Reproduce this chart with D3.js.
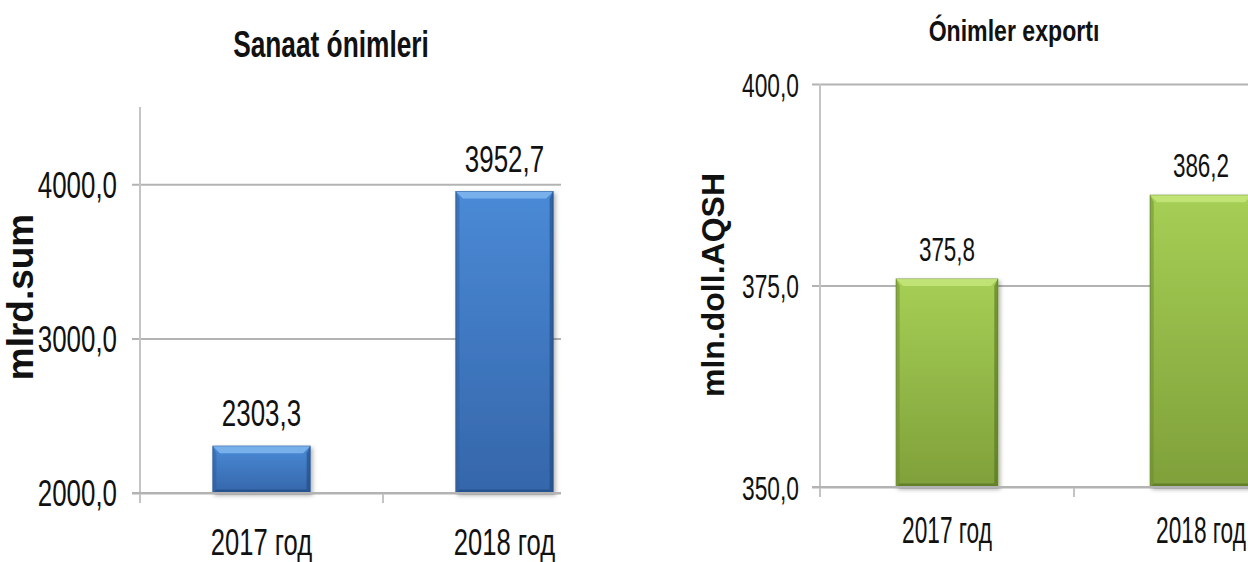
<!DOCTYPE html>
<html><head><meta charset="utf-8">
<script src="https://cdn.jsdelivr.net/npm/d3@7"></script>
<style>html,body{margin:0;padding:0;background:#fff;overflow:hidden}</style>
</head><body><svg id="c" width="1248" height="562"></svg>
<script>
// ---- data ----
const categories = ["2017 год", "2018 год"];
const industryValues = [2303.3, 3952.7];
const industryLabels = ["2303,3", "3952,7"];
const industryTicks = [2000, 3000, 4000];
const industryTickLabels = ["2000,0", "3000,0", "4000,0"];
const industryDomain = [2000, 4500];
const exportValues = [375.8, 386.2];
const exportLabels = ["375,8", "386,2"];
const exportTicks = [350, 375, 400];
const exportTickLabels = ["350,0", "375,0", "400,0"];
const exportDomain = [350, 400];
const chartTitles = ["Sanaat ónimleri", "Ónimler exportı"];
const axisTitles = ["mlrd.sum", "mln.doll.AQSH"];

const svg = d3.select("#c");
const defs = svg.append("defs");
const FONT = "'Liberation Sans', Arial, sans-serif";

function grad(id, stops) {
  const g = defs.append("linearGradient").attr("id", id)
    .attr("x1", 0).attr("y1", 0).attr("x2", 0).attr("y2", 1);
  stops.forEach(s => g.append("stop").attr("offset", s[0]).attr("stop-color", s[1]));
}
grad("gBlue", [[0, "#4A8AD6"], [1, "#3566AA"]]);
grad("gGreen", [[0, "#A6CF55"], [1, "#7FA03A"]]);
const f = defs.append("filter").attr("id", "sh").attr("x", "-10%").attr("y", "-10%").attr("width", "130%").attr("height", "130%");
f.append("feDropShadow").attr("dx", 2).attr("dy", 2).attr("stdDeviation", 2).attr("flood-color", "#000").attr("flood-opacity", 0.3);

function condense(sel, k) {
  sel.each(function () {
    const w = this.getComputedTextLength();
    d3.select(this).attr("textLength", w * k).attr("lengthAdjust", "spacingAndGlyphs");
  });
}

function drawChart(o) {
  const g = svg.append("g");
  const clipId = "clip" + o.id;
  defs.append("clipPath").attr("id", clipId).append("rect")
    .attr("x", 0).attr("y", 0).attr("width", o.clipRight).attr("height", 562);

  const x = d3.scaleBand().domain(categories).range(o.xRange).paddingInner(0.6).paddingOuter(0.3);
  const y = d3.scaleLinear().domain(o.domain).range(o.yRange);
  const ax = o.xRange[0];
  const base = o.yRange[0];
  const top = o.yRange[1];

  const plot = g.append("g").attr("clip-path", `url(#${clipId})`);

  // y axis with gridlines
  const yAxis = d3.axisLeft(y).tickValues(o.ticks)
    .tickFormat((d, i) => o.tickLabels[i])
    .tickSizeInner(-(o.clipRight - ax)).tickSizeOuter(0).tickPadding(o.tickPad);
  const ya = plot.append("g").attr("transform", `translate(${ax},0)`).call(yAxis);
  ya.select(".domain").remove();
  ya.selectAll(".tick line").attr("x1", -8).attr("stroke", "#b3b3b3").attr("stroke-width", 2);
  ya.selectAll(".tick text").attr("font-family", FONT).attr("font-size", o.tickSize)
    .attr("fill", "#111").attr("dy", "0.36em");
  condense(ya.selectAll(".tick text"), o.tickK);

  // vertical axis line
  plot.append("line").attr("x1", ax).attr("x2", ax).attr("y1", top).attr("y2", base + 10)
    .attr("stroke", "#c4c4c4").attr("stroke-width", 2);
  // category separator ticks
  const sep = categories.slice(1).map(c => x(c) - x.step() * x.paddingInner() / 2);
  plot.selectAll(".sep").data(sep).enter().append("line")
    .attr("x1", d => d).attr("x2", d => d).attr("y1", base).attr("y2", base + 10)
    .attr("stroke", "#c4c4c4").attr("stroke-width", 2);

  // bars
  const bw = x.bandwidth();
  const bars = plot.selectAll(".bar").data(o.values).enter().append("g").attr("filter", "url(#sh)");
  bars.append("rect")
    .attr("x", (d, i) => x(categories[i])).attr("y", d => y(d))
    .attr("width", bw).attr("height", d => base - y(d))
    .attr("fill", `url(#${o.grad})`).attr("stroke", o.edge).attr("stroke-width", 1);
  const bv = 7;
  bars.append("path").attr("d", (d, i) => {
    const x0 = x(categories[i]), y0 = y(d);
    return `M${x0},${y0}L${x0 + bw},${y0}L${x0 + bw - bv},${y0 + bv}L${x0 + bv},${y0 + bv}Z`;
  }).attr("fill", o.light).attr("opacity", 0.9);
  bars.append("path").attr("d", (d, i) => {
    const x0 = x(categories[i]), y0 = y(d);
    return `M${x0},${y0}L${x0 + bv * 0.5},${y0 + bv}L${x0 + bv * 0.5},${base - bv * 0.5}L${x0},${base}Z`;
  }).attr("fill", o.side).attr("opacity", 0.5);
  bars.append("path").attr("d", (d, i) => {
    const x1 = x(categories[i]) + bw, y0 = y(d);
    return `M${x1},${y0}L${x1 - bv * 0.5},${y0 + bv}L${x1 - bv * 0.5},${base - bv * 0.5}L${x1},${base}Z`;
  }).attr("fill", o.dark).attr("opacity", 0.55);
  bars.append("path").attr("d", (d, i) => {
    const x0 = x(categories[i]);
    return `M${x0},${base}L${x0 + bv * 0.5},${base - bv * 0.5}L${x0 + bw - bv * 0.5},${base - bv * 0.5}L${x0 + bw},${base}Z`;
  }).attr("fill", o.dark).attr("opacity", 0.6);

  // baseline (category axis)
  plot.append("line").attr("x1", ax - 8).attr("x2", o.clipRight).attr("y1", base).attr("y2", base)
    .attr("stroke", "#b3b3b3").attr("stroke-width", 2);

  // data labels
  const dl = g.selectAll(".dl").data(o.values).enter().append("text")
    .attr("x", (d, i) => x(categories[i]) + bw / 2).attr("y", d => y(d) - o.labelGap)
    .attr("text-anchor", "middle").attr("font-family", FONT).attr("font-size", o.labelSize)
    .attr("fill", "#111").text((d, i) => o.labels[i]);
  condense(dl, o.labelK);

  // category labels
  const cl = g.selectAll(".cl").data(categories).enter().append("text")
    .attr("x", d => x(d) + bw / 2).attr("y", o.catY)
    .attr("text-anchor", "middle").attr("font-family", FONT).attr("font-size", o.catSize)
    .attr("fill", "#111").text(d => d);
  condense(cl, o.catK);

  // title
  const t = g.append("text").attr("x", o.titleX).attr("y", o.titleY).attr("text-anchor", "middle")
    .attr("font-family", FONT).attr("font-weight", "bold").attr("font-size", o.titleSize)
    .attr("fill", "#111").text(o.title);
  condense(t, o.titleK);

  // axis title
  g.append("text").attr("transform", `translate(${o.ytX},${o.ytY}) rotate(-90)`)
    .attr("text-anchor", "middle").attr("font-family", FONT).attr("font-weight", "bold")
    .attr("font-size", o.ytSize).attr("fill", "#111").text(o.yTitle);
}

drawChart({
  id: 1, xRange: [140, 626], clipRight: 561, domain: industryDomain, yRange: [493, 107],
  ticks: industryTicks, tickLabels: industryTickLabels, tickPad: 23, tickSize: 36, tickK: 0.72,
  values: industryValues, labels: industryLabels, labelGap: 20, labelSize: 36, labelK: 0.72,
  catY: 555, catSize: 36, catK: 0.71,
  grad: "gBlue", light: "#7DB5EE", side: "#2d5e9e", dark: "#1f467a", edge: "#2f5d98",
  title: chartTitles[0], titleX: 331, titleY: 57, titleSize: 36, titleK: 0.73,
  yTitle: axisTitles[0], ytX: 33, ytY: 297, ytSize: 37
});
drawChart({
  id: 2, xRange: [820, 1328], clipRight: 1248, domain: exportDomain, yRange: [487, 84],
  ticks: exportTicks, tickLabels: exportTickLabels, tickPad: 21, tickSize: 34, tickK: 0.67,
  values: exportValues, labels: exportLabels, labelGap: 18, labelSize: 34, labelK: 0.66,
  catY: 543, catSize: 36, catK: 0.63,
  grad: "gGreen", light: "#C4E57A", side: "#6b8a2e", dark: "#4f6a1f", edge: "#6f8f33",
  title: chartTitles[1], titleX: 1014, titleY: 41, titleSize: 30, titleK: 0.77,
  yTitle: axisTitles[1], ytX: 724, ytY: 285, ytSize: 32
});
</script>
</body></html>
